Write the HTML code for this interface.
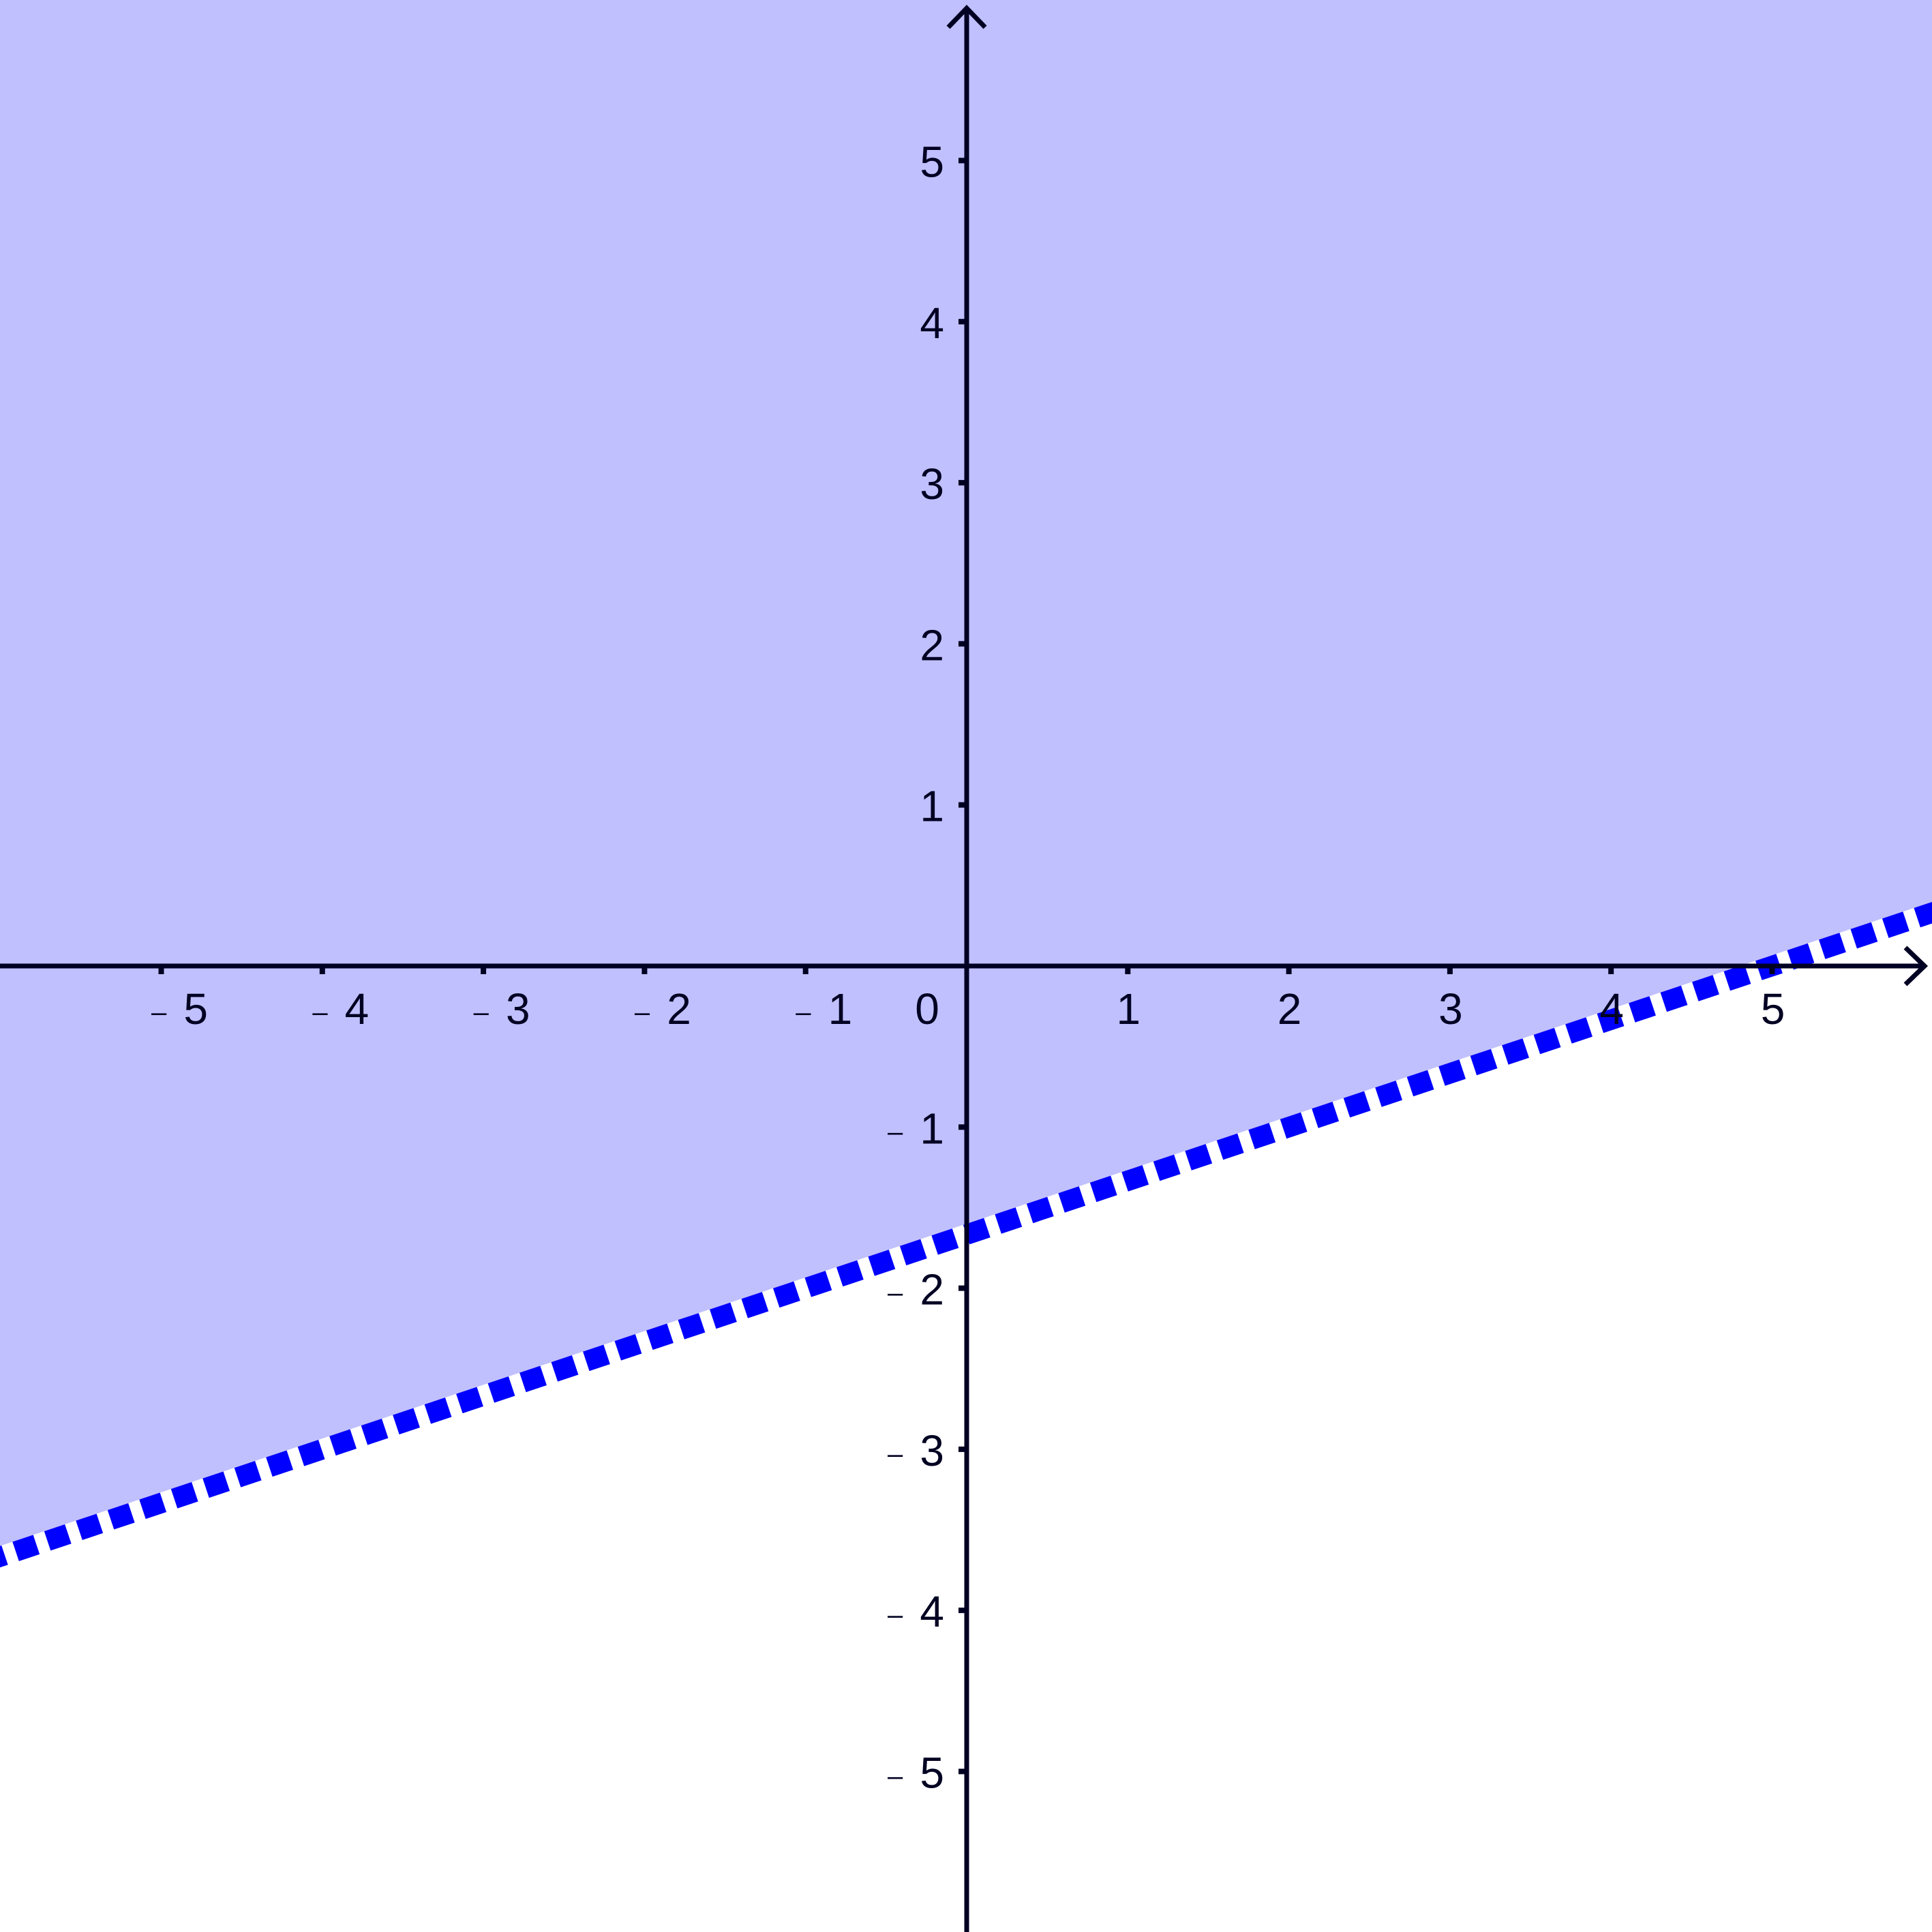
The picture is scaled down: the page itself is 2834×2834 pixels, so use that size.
<!DOCTYPE html>
<html><head><meta charset="utf-8"><style>html,body{margin:0;padding:0;background:#fff}svg{display:block}</style></head>
<body>
<svg id="chart" width="2834" height="2834" viewBox="0 0 2834 2834" xmlns="http://www.w3.org/2000/svg" font-family="'Liberation Sans', sans-serif">
<g id="fillg"></g><g id="lineg"></g><g id="axes"></g><g id="labels"></g>
</svg>
<script>
const xTicks = [-5,-4,-3,-2,-1,1,2,3,4,5];
const yTicks = [-5,-4,-3,-2,-1,1,2,3,4,5];
const slope = [1/3];
const intercept = [-5/3];
const xDomain = [-6, 6];

const NS='http://www.w3.org/2000/svg';
const ox=1418, oy=1417, u=236.3;
const sx=x=>ox+x*u, sy=y=>oy-y*u;
function mk(tag,attrs,parent){const e=document.createElementNS(NS,tag);for(const k in attrs)e.setAttribute(k,attrs[k]);parent.appendChild(e);return e;}
const f=x=>slope[0]*x+intercept[0];
const x0=xDomain[0]-0.1, x1=xDomain[1]+0.1;

const fillEl=mk('polygon',{points:`${sx(x0)},${sy(f(x0))} ${sx(x1)},${sy(f(x1))} 2834,0 0,0`,fill:'#c0c0ff'},document.getElementById('fillg'));


const bl=mk('line',{x1:sx(x0),y1:sy(f(x0)),x2:sx(x1),y2:sy(f(x1)),stroke:'#ffffff','stroke-width':30},document.getElementById('lineg'));


const ln=mk('line',{x1:sx(x0),y1:sy(f(x0)),x2:sx(x1),y2:sy(f(x1)),stroke:'#0000ff','stroke-width':30,'stroke-dasharray':'32 17'},document.getElementById('lineg'));



const ax=document.getElementById('axes');
const c='#000022';
const xa=mk('line',{x1:0,y1:oy,x2:2822,y2:oy,stroke:c,'stroke-width':7},ax);


const ya=mk('line',{x1:ox,y1:2834,x2:ox,y2:12,stroke:c,'stroke-width':7},ax);


const xar=mk('polyline',{points:`2795,1390 2823,${oy} 2795,1444`,fill:'none',stroke:c,'stroke-width':7},ax);


const yar=mk('polyline',{points:`1391,40 ${ox},12 1445,40`,fill:'none',stroke:c,'stroke-width':7},ax);



const lb=document.getElementById('labels');
function label(tx,v){
  if(v<0){
    const d=mk('tspan',{'font-size':40,dy:-4},tx); d.textContent='\u2013 ';
    const n=mk('tspan',{'font-size':64,dy:4,dx:14},tx); n.textContent=String(-v);
  } else tx.textContent=String(v);
}
xTicks.forEach(v=>{
  const t=mk('line',{x1:sx(v),y1:oy,x2:sx(v),y2:oy+12,stroke:c,'stroke-width':8},ax);
  
  
  const tx=mk('text',{x:sx(v)+(v<0?27:1),y:1502,'font-size':64,'text-anchor':'middle',fill:c},lb);
  label(tx,v);
  
  
});
yTicks.forEach(v=>{
  const t=mk('line',{x1:ox-12,y1:sy(v),x2:ox,y2:sy(v),stroke:c,'stroke-width':8},ax);
  
  
  const tx=mk('text',{x:1385,y:sy(v)+24,'font-size':64,'text-anchor':'end',fill:c},lb);
  label(tx,v);
  
  
});
const z=mk('text',{x:1360,y:1502,'font-size':64,'text-anchor':'middle',fill:c},lb);
z.textContent='0';


</script>
</body></html>
